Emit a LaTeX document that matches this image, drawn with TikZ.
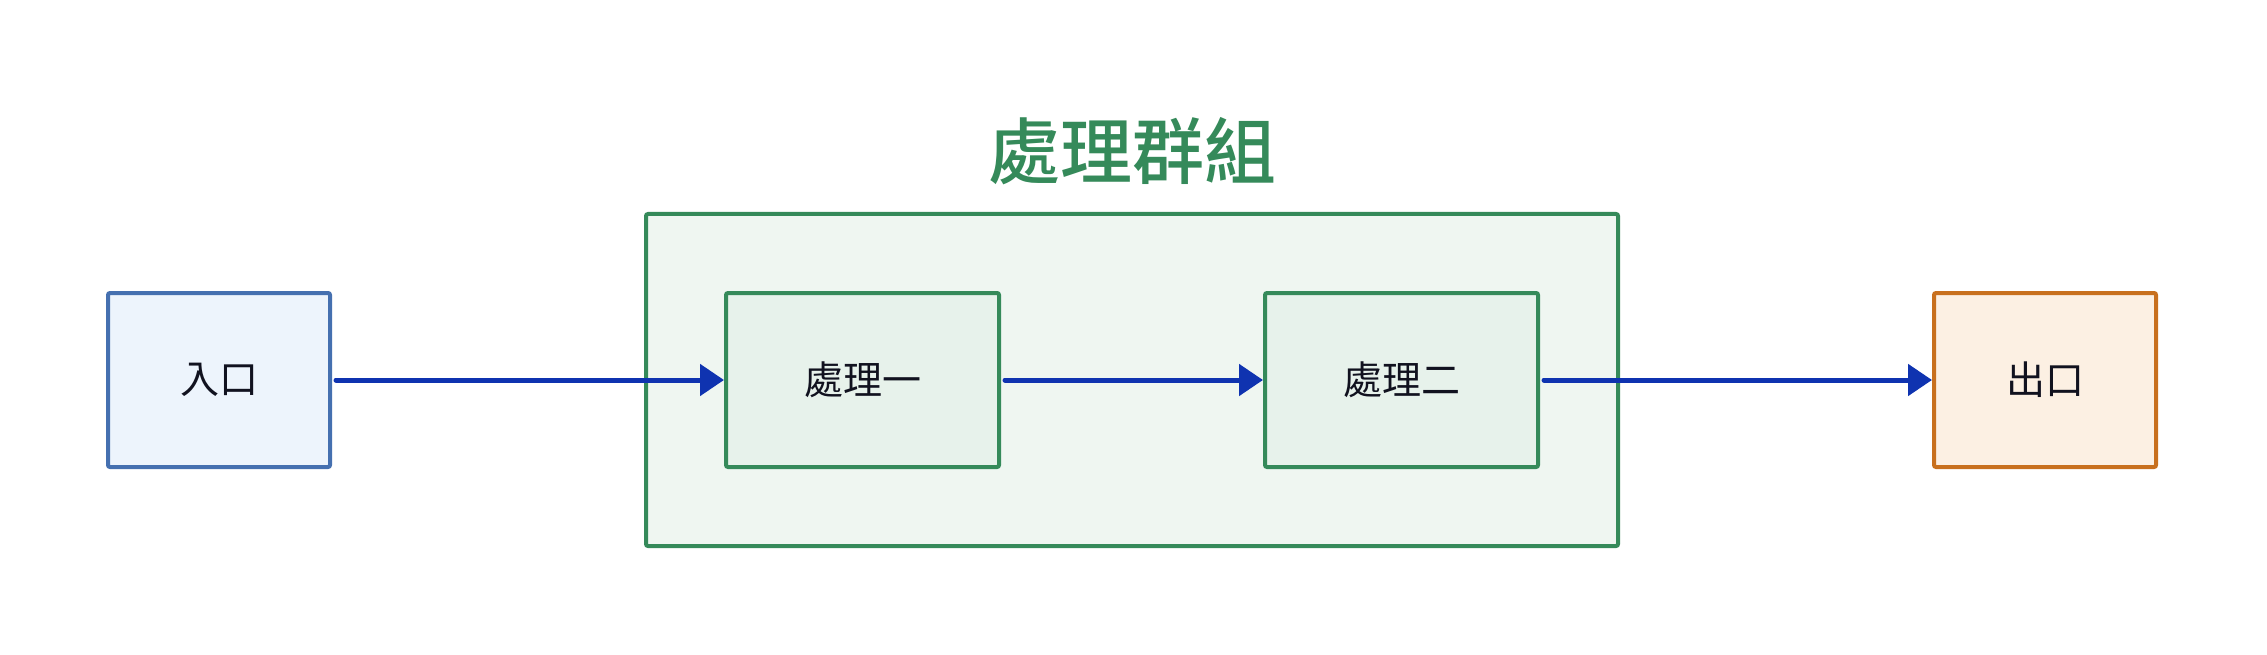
\documentclass[tikz,border=0pt]{standalone}
\usepackage{fontspec}
\newfontfamily\cjk{Noto Sans CJK TC}
\newfontfamily\cjkmed{Noto Sans CJK TC Medium}
\usepackage{tikz}
\usetikzlibrary{arrows.meta}
\definecolor{inblue}{HTML}{4570B0}
\definecolor{infill}{HTML}{EDF4FC}
\definecolor{grpgreen}{HTML}{358A5A}
\definecolor{grpfill}{HTML}{EFF6F1}
\definecolor{procfill}{HTML}{E7F2EB}
\definecolor{outorange}{HTML}{C8701E}
\definecolor{outfill}{HTML}{FCF0E3}
\definecolor{flowblue}{HTML}{0F33B0}
\definecolor{ink}{HTML}{11121F}

\begin{document}
\begin{tikzpicture}[x=1pt,y=-1pt,
  box/.style={draw,line width=4pt,rounded corners=2pt,minimum width=222pt,
    minimum height=174pt,inner sep=0pt,text=ink,font=\cjk\fontsize{39}{44}\selectfont},
  proc/.style={box,draw=grpgreen,fill=procfill,minimum width=273pt},
  flow/.style={draw=flowblue,line width=5pt,line cap=round,
    -{Triangle[length=24pt,width=31pt]}}]
\useasboundingbox (0,0) rectangle (2267,655);
% group frame and title
\node[draw=grpgreen,fill=grpfill,line width=4pt,rounded corners=2pt,
  minimum width=972pt,minimum height=332pt,inner sep=0pt] (grp) at (1132,380) {};
\node[text=grpgreen,font=\cjkmed\fontsize{72}{80}\selectfont] (title) at (1132,151) {處理群組};
% boxes
\node[box,draw=inblue,fill=infill] (a_0) at (219,380) {入口};
\node[proc] (a_1) at (862.5,380) {處理一};
\node[proc] (a_2) at (1401.5,380) {處理二};
\node[box,draw=outorange,fill=outfill] (a_3) at (2045,380) {出口};
% connectors
\foreach \i in {0,...,2} {
  \pgfmathtruncatemacro{\j}{\i+1};
  \draw[flow] ([xshift=4pt]a_\i.east) -- (a_\j.west);
}
\end{tikzpicture}
\end{document}
